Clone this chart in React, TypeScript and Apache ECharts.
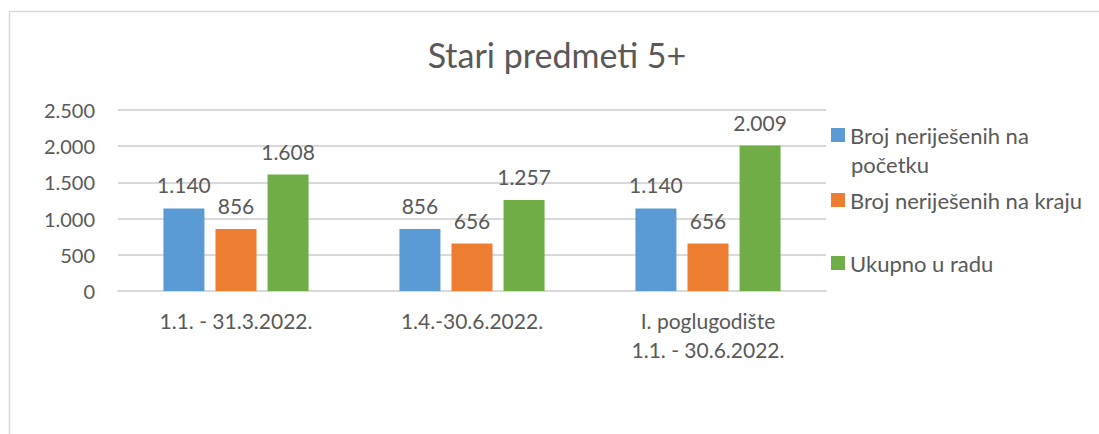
import React, { useEffect, useRef } from "react";
import * as echarts from "echarts";

const categories = ["1.1. - 31.3.2022.", "1.4.-30.6.2022.", "I. poglugodište\n1.1. - 30.6.2022."];
const seriesNames = ["Broj neriješenih na početku", "Broj neriješenih na kraju", "Ukupno u radu"];
const pocetak = [1140, 856, 1140];
const kraj = [856, 656, 656];
const ukupno = [1608, 1257, 2009];
const colors = ["#5B9BD5", "#ED7D31", "#70AD47"];
const yMin = 0;
const yMax = 2500;
const yStep = 500;

const fmt = (v: number) => String(Math.round(v)).replace(/\B(?=(\d{3})+(?!\d))/g, ".");

const FONT = "Lato";
const TXT = "#595959";
const LEG_FS = 22;

export default function App() {
  const ref = useRef<HTMLDivElement>(null);
  useEffect(() => {
    if (!ref.current) return;
    const chart = echarts.init(ref.current, undefined, { renderer: "svg" });
    const values = [pocetak, kraj, ukupno];
    const legendItem = (i: number, center: number, formatter?: string) => ({
      data: [seriesNames[i]],
      left: 831,
      top: center - LEG_FS / 2,
      padding: 0,
      orient: "vertical",
      itemWidth: 14,
      itemHeight: 14,
      itemGap: 6,
      icon: "rect",
      formatter: formatter ? () => formatter : undefined,
      textStyle: { fontFamily: FONT, fontSize: LEG_FS, color: TXT },
    });
    chart.setOption({
      animation: false,
      backgroundColor: "#ffffff",
      textStyle: { fontFamily: FONT },
      title: {
        text: "Stari predmeti 5+",
        left: 557,
        top: 37,
        padding: 0,
        textAlign: "center",
        textStyle: { fontFamily: FONT, fontSize: 34, fontWeight: "normal", color: TXT },
      },
      legend: [
        legendItem(0, 135, "Broj neriješenih na"),
        legendItem(1, 200),
        legendItem(2, 263),
      ],
      grid: { left: 118, right: 273, top: 110, bottom: 143, containLabel: false },
      xAxis: {
        type: "category",
        data: categories,
        axisLine: { lineStyle: { color: "#D9D9D9", width: 2 } },
        axisTick: { show: false },
        axisLabel: {
          fontFamily: FONT,
          fontSize: 21,
          color: TXT,
          margin: 15,
          lineHeight: 29,
          interval: 0,
        },
      },
      yAxis: {
        type: "value",
        min: yMin,
        max: yMax,
        interval: yStep,
        axisLine: { show: false },
        axisTick: { show: false },
        splitLine: { lineStyle: { color: "#D9D9D9", width: 2 } },
        axisLabel: {
          fontFamily: FONT,
          fontSize: 20,
          color: TXT,
          margin: 23,
          formatter: (v: number) => fmt(v),
        },
      },
      series: seriesNames.map((name, i) => ({
        name,
        type: "bar",
        data: values[i],
        barWidth: 41,
        barGap: "27%",
        itemStyle: { color: colors[i] },
        label: {
          show: true,
          position: "top",
          distance: 13,
          fontFamily: FONT,
          fontSize: 21,
          color: TXT,
          formatter: (p: any) => fmt(p.value),
        },
      })),
      graphic: [
        {
          type: "line",
          shape: { x1: 9, y1: 11.5, x2: 1099, y2: 11.5 },
          style: { stroke: "#D9D9D9", lineWidth: 1.5 },
          silent: true,
        },
        {
          type: "line",
          shape: { x1: 9.5, y1: 11, x2: 9.5, y2: 434 },
          style: { stroke: "#D9D9D9", lineWidth: 1.5 },
          silent: true,
        },
        {
          type: "text",
          left: 851,
          top: 164 - LEG_FS / 2,
          style: { text: "početku", fontFamily: FONT, fontSize: LEG_FS, fill: TXT },
          silent: true,
        },
      ],
    });
    return () => chart.dispose();
  }, []);
  return (
    <div
      ref={ref}
      style={{ position: "fixed", left: 0, top: 0, width: 1099, height: 434 }}
    />
  );
}
